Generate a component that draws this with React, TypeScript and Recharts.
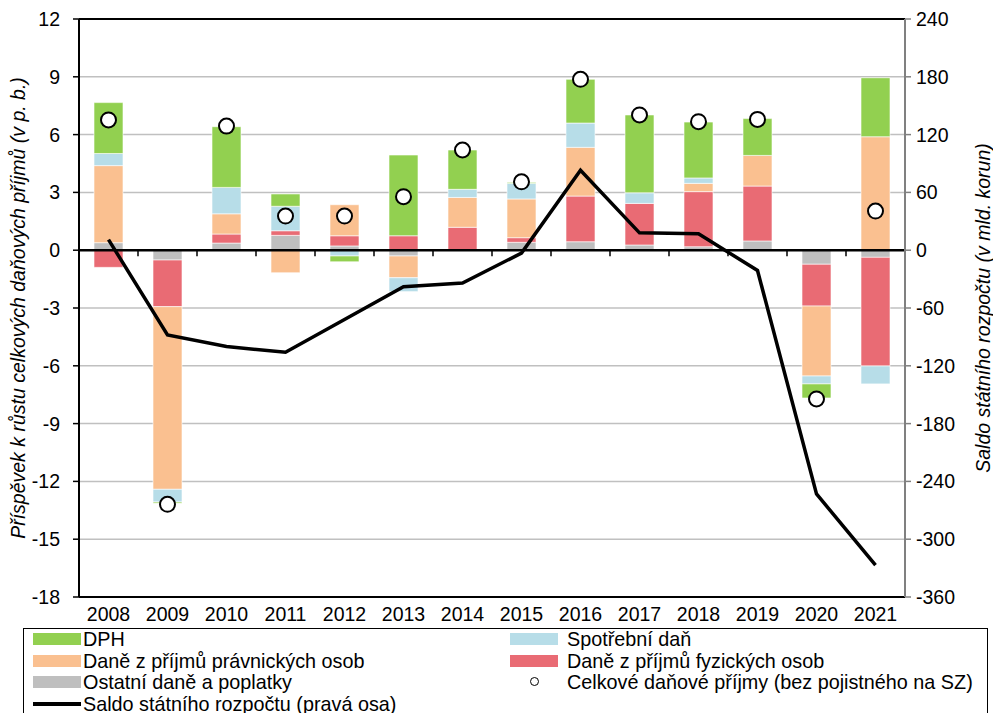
import React from 'react';
import { ComposedChart, Bar, Line, XAxis, YAxis, CartesianGrid, ReferenceLine } from 'recharts';

const years = ['2008', '2009', '2010', '2011', '2012', '2013', '2014', '2015', '2016', '2017', '2018', '2019', '2020', '2021'];
const ostatni = [0.39, -0.51, 0.37, 0.77, 0.22, -0.3, 0, 0.41, 0.44, 0.27, 0.18, 0.48, -0.73, -0.37];
const fyzicke = [-0.89, -2.42, 0.47, 0.24, 0.53, 0.75, 1.19, 0.24, 2.37, 2.16, 2.86, 2.85, -2.17, -5.64];
const pravnicke = [4.0, -9.48, 1.05, -1.17, 1.61, -1.13, 1.55, 2.01, 2.53, 0, 0.43, 1.59, -3.63, 5.89];
const spotrebni = [0.63, -0.66, 1.37, 1.27, -0.3, -0.72, 0.42, 0.81, 1.26, 0.55, 0.28, 0, -0.41, -0.93];
const dph = [2.64, -0.06, 3.15, 0.64, -0.3, 4.19, 2.04, 0.05, 2.27, 4.04, 2.9, 1.91, -0.73, 3.06];
const celkove = [6.76, -13.19, 6.44, 1.77, 1.77, 2.78, 5.2, 3.55, 8.87, 7.02, 6.67, 6.79, -7.72, 2.03];
const saldo = [11, -88, -100, -106, -72, -38, -34, -3, 83, 18, 17, -21, -253, -327];

const leftTicks = [-18, -15, -12, -9, -6, -3, 0, 3, 6, 9, 12];
const rightTicks = [-360, -300, -240, -180, -120, -60, 0, 60, 120, 180, 240];

const C_DPH = '#92D050';
const C_SPOT = '#B7DDE8';
const C_PRAV = '#FAC090';
const C_FYZ = '#E96B74';
const C_OST = '#BFBFBF';

const data = years.map((y, i) => ({
  year: y,
  ostatni: ostatni[i],
  fyzicke: fyzicke[i],
  pravnicke: pravnicke[i],
  spotrebni: spotrebni[i],
  dph: dph[i],
  celkove: celkove[i],
  saldo: saldo[i],
}));

const FONT = '"Liberation Sans", Arial, sans-serif';
const FS = 19.5;

const ZeroLine = (p: any) => {
  const { x1, y1, x2, y2 } = p;
  if (x1 == null) return null;
  const n = years.length;
  const w = (x2 - x1) / n;
  const ticks = [];
  for (let i = 1; i < n; i++) {
    const x = x1 + w * i;
    ticks.push(<line key={i} x1={x} x2={x} y1={y1} y2={y1 + 6} stroke="#000" strokeWidth={1.5} />);
  }
  return (
    <g>
      <line x1={x1} y1={y1} x2={x2} y2={y2} stroke="#000" strokeWidth={2.5} />
      {ticks}
    </g>
  );
};

const Dot = (p: any) => {
  const { cx, cy } = p;
  if (cx == null || cy == null) return null;
  return <circle cx={cx} cy={cy} r={7.5} fill="#fff" stroke="#000" strokeWidth={2} />;
};

const legendItems = [
  { label: 'DPH', type: 'rect', color: C_DPH, col: 0, row: 0 },
  { label: 'Spotřební daň', type: 'rect', color: C_SPOT, col: 1, row: 0 },
  { label: 'Daně z příjmů právnických osob', type: 'rect', color: C_PRAV, col: 0, row: 1 },
  { label: 'Daně z příjmů fyzických osob', type: 'rect', color: C_FYZ, col: 1, row: 1 },
  { label: 'Ostatní daně a poplatky', type: 'rect', color: C_OST, col: 0, row: 2 },
  { label: 'Celkové daňové příjmy (bez pojistného na SZ)', type: 'circle', color: '#000', col: 1, row: 2 },
  { label: 'Saldo státního rozpočtu (pravá osa)', type: 'line', color: '#000', col: 0, row: 3 },
];

export default function App() {
  return (
    <div style={{ position: 'absolute', left: 0, top: 0, width: 993, height: 713, overflow: 'hidden', background: '#fff', fontFamily: FONT }}>
      <ComposedChart
        width={993}
        height={713}
        data={data}
        stackOffset="sign"
        barSize={29}
        margin={{ top: 19, right: 0, bottom: 86, left: 0 }}
      >
        <CartesianGrid yAxisId="left" vertical={false} stroke="#C0C0C0" strokeWidth={1.5} />
        <XAxis
          dataKey="year"
          axisLine={{ stroke: '#000', strokeWidth: 2 }}
          tickLine={false}
          tickSize={0}
          tickMargin={10}
          tick={{ fill: '#000', fontSize: FS, fontFamily: FONT }}
          height={30}
          interval={0}
        />
        <YAxis
          yAxisId="left"
          orientation="left"
          domain={[-18, 12]}
          ticks={leftTicks}
          interval={0}
          width={79}
          axisLine={{ stroke: '#000', strokeWidth: 2 }}
          tickLine={{ stroke: '#000', strokeWidth: 1.5 }}
          tickSize={6}
          tickMargin={13}
          tick={{ fill: '#000', fontSize: FS, fontFamily: FONT }}
        />
        <YAxis
          yAxisId="right"
          orientation="right"
          domain={[-360, 240]}
          ticks={rightTicks}
          interval={0}
          width={88}
          axisLine={{ stroke: '#808080', strokeWidth: 2 }}
          tickLine={{ stroke: '#808080', strokeWidth: 1.5 }}
          tickSize={6}
          tickMargin={5}
          tick={{ fill: '#000', fontSize: FS, fontFamily: FONT, textAnchor: 'start' }}
        />
        <ReferenceLine yAxisId="left" y={12} stroke="#000" strokeWidth={2} />
        <Bar yAxisId="left" dataKey="ostatni" stackId="a" fill={C_OST} stroke="#fff" strokeWidth={0.6} isAnimationActive={false} />
        <Bar yAxisId="left" dataKey="fyzicke" stackId="a" fill={C_FYZ} stroke="#fff" strokeWidth={0.6} isAnimationActive={false} />
        <Bar yAxisId="left" dataKey="pravnicke" stackId="a" fill={C_PRAV} stroke="#fff" strokeWidth={0.6} isAnimationActive={false} />
        <Bar yAxisId="left" dataKey="spotrebni" stackId="a" fill={C_SPOT} stroke="#fff" strokeWidth={0.6} isAnimationActive={false} />
        <Bar yAxisId="left" dataKey="dph" stackId="a" fill={C_DPH} stroke="#fff" strokeWidth={0.6} isAnimationActive={false} />
        <ReferenceLine yAxisId="left" y={0} shape={ZeroLine} />
        <Line yAxisId="right" dataKey="saldo" stroke="#000" strokeWidth={3.5} dot={false} type="linear" isAnimationActive={false} />
        <Line yAxisId="left" dataKey="celkove" stroke="none" dot={<Dot />} activeDot={false} isAnimationActive={false} />
      </ComposedChart>

      <div style={{ position: 'absolute', left: 18, top: 308, transform: 'translate(-50%, -50%) rotate(-90deg)', whiteSpace: 'nowrap', fontStyle: 'italic', fontSize: FS, color: '#000' }}>
        Příspěvek k růstu celkových daňových příjmů (v p. b.)
      </div>
      <div style={{ position: 'absolute', left: 983, top: 308, transform: 'translate(-50%, -50%) rotate(-90deg)', whiteSpace: 'nowrap', fontStyle: 'italic', fontSize: FS, color: '#000' }}>
        Saldo státního rozpočtu (v mld. korun)
      </div>

      <div style={{ position: 'absolute', left: 23, top: 628, width: 965, height: 100, border: '1.5px solid #000', boxSizing: 'border-box' }} />
      {legendItems.map((it, i) => {
        const sx = it.col === 0 ? 33 : 510;
        const tx = it.col === 0 ? 83 : 567;
        const cy = 639 + it.row * 21.5;
        return (
          <React.Fragment key={i}>
            {it.type === 'rect' && (
              <div style={{ position: 'absolute', left: sx, top: cy - 6, width: 48, height: 12, background: it.color }} />
            )}
            {it.type === 'line' && (
              <div style={{ position: 'absolute', left: sx, top: cy - 1.5, width: 48, height: 3.5, background: '#000' }} />
            )}
            {it.type === 'circle' && (
              <div style={{ position: 'absolute', left: sx + 20, top: cy - 5, width: 7, height: 7, borderRadius: '50%', border: '1.8px solid #000', background: '#fff' }} />
            )}
            <div style={{ position: 'absolute', left: tx, top: cy - 11, fontSize: 19.8, lineHeight: '22px', whiteSpace: 'nowrap', color: '#000' }}>
              {it.label}
            </div>
          </React.Fragment>
        );
      })}
    </div>
  );
}
